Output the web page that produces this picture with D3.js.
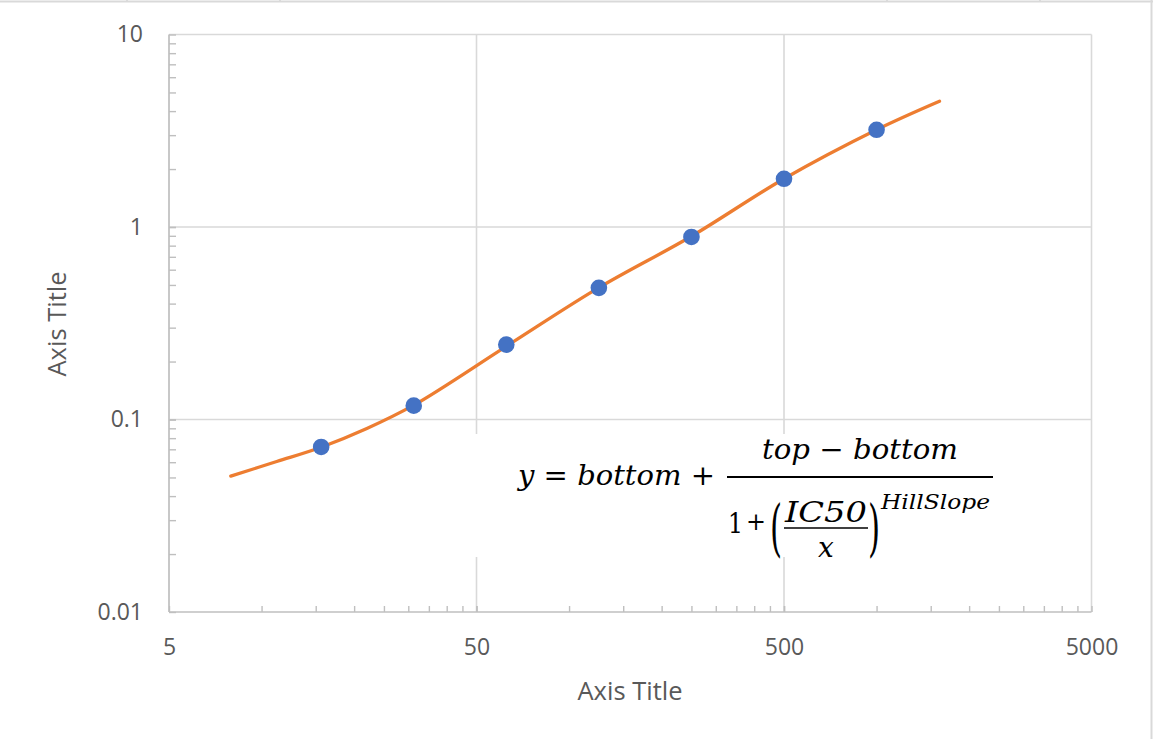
<!DOCTYPE html>
<html>
<head>
<meta charset="utf-8">
<script src="https://cdn.jsdelivr.net/npm/d3@7"></script>
<style>
  body { margin: 0; background: #fff; }
  .tick text { fill: #595959; font-family: 'Open Sans', sans-serif; font-size: 23px; }
  .domain { display: none; }
</style>
</head>
<body>
<div class="chart"></div>
<script>
// measured points (concentration vs response)
var xValues = [15.625, 31.25, 62.5, 125, 250, 500, 1000]
var yValues = [0.072, 0.118, 0.245, 0.483, 0.888, 1.78, 3.20]

// fitted curve
var curveX = [7.94, 11.2, 15.625, 22, 31.25, 62.5, 125, 250, 500, 1000, 1602]
var curveY = [0.0508, 0.0605, 0.0718, 0.0898, 0.1187, 0.240, 0.4838, 0.895, 1.782, 3.203, 4.503]

// axis ticks
var xTicks = [5, 50, 500, 5000]
var yTicks = [0.01, 0.1, 1, 10]

var svgWidth = 1153
var svgHeight = 739

var margin = { top: 34.5, left: 169, right: 61.5, bottom: 127 }
var width = svgWidth - margin.left - margin.right
var height = svgHeight - margin.top - margin.bottom

var svg = d3.select('.chart')
    .append('svg')
    .attr('width', svgWidth)
    .attr('height', svgHeight)
    .style('display', 'block')

// outer frame (only top and right edges show in the crop)
svg.append('line').attr('x1', 0).attr('x2', svgWidth).attr('y1', 1.5).attr('y2', 1.5)
    .attr('stroke', '#d9d9d9').attr('stroke-width', 2)
svg.append('line').attr('x1', 1151.5).attr('x2', 1151.5).attr('y1', 0).attr('y2', svgHeight)
    .attr('stroke', '#d9d9d9').attr('stroke-width', 2)
;[127, 280, 887, 1040].forEach(function (cx) {
    svg.append('line').attr('x1', cx).attr('x2', cx).attr('y1', 0).attr('y2', 1)
        .attr('stroke', '#c8c8c8').attr('stroke-width', 1)
})

var chartGroup = svg.append('g')
    .attr('transform', `translate(${margin.left}, ${margin.top})`)

var x = d3.scaleLog().domain([5, 5000]).range([0, width])
var y = d3.scaleLog().domain([0.01, 10]).range([height, 0])

// minor tick values: k * base for each decade
var xMinor = []
;[5, 50, 500].forEach(b => { for (var k = 1; k <= 10; k++) xMinor.push(b * k) })
var yMinor = []
;[0.01, 0.1, 1].forEach(b => { for (var k = 1; k <= 10; k++) yMinor.push(+(b * k).toPrecision(3)) })

// gridlines
chartGroup.append('g')
    .selectAll('line.hgrid')
    .data(yTicks.slice(1))
    .enter().append('line')
    .attr('x1', 0).attr('x2', width)
    .attr('y1', d => y(d)).attr('y2', d => y(d))
    .attr('stroke', '#d9d9d9').attr('stroke-width', 1.6)
chartGroup.append('g')
    .selectAll('line.vgrid')
    .data(xTicks.slice(1))
    .enter().append('line')
    .attr('x1', d => x(d)).attr('x2', d => x(d))
    .attr('y1', 0).attr('y2', height)
    .attr('stroke', '#d9d9d9').attr('stroke-width', 1.6)

// minor ticks, pointing inward
chartGroup.append('g')
    .call(d3.axisLeft(y).tickValues(yMinor).tickSize(-7).tickFormat(''))
chartGroup.append('g')
    .attr('transform', `translate(0, ${height})`)
    .call(d3.axisBottom(x).tickValues(xMinor).tickSize(-6).tickFormat(''))
chartGroup.selectAll('.tick line').attr('stroke', '#bfbfbf').attr('stroke-width', 1.4)

// axis lines
chartGroup.append('line').attr('x1', 0).attr('x2', 0).attr('y1', 0).attr('y2', height)
    .attr('stroke', '#bfbfbf').attr('stroke-width', 1.7)
chartGroup.append('line').attr('x1', 0).attr('x2', width).attr('y1', height).attr('y2', height)
    .attr('stroke', '#bfbfbf').attr('stroke-width', 1.7)

// tick labels
chartGroup.append('g')
    .call(d3.axisLeft(y).tickValues(yTicks).tickSize(0).tickPadding(26)
        .tickFormat(d => d >= 1 ? d3.format('d')(d) : String(d)))
chartGroup.append('g')
    .attr('transform', `translate(0, ${height})`)
    .call(d3.axisBottom(x).tickValues(xTicks).tickSize(0).tickPadding(27)
        .tickFormat(d3.format('d')))

// fitted curve
var line = d3.line()
    .x(d => x(d[0]))
    .y(d => y(d[1]))
    .curve(d3.curveCatmullRom.alpha(0.5))
chartGroup.append('path')
    .datum(d3.zip(curveX, curveY))
    .attr('d', line)
    .attr('fill', 'none')
    .attr('stroke', '#ed7d31')
    .attr('stroke-width', 3.3)
    .attr('stroke-linecap', 'round')

// data points
chartGroup.selectAll('circle')
    .data(d3.zip(xValues, yValues))
    .enter().append('circle')
    .attr('cx', d => x(d[0]))
    .attr('cy', d => y(d[1]))
    .attr('r', 8.3)
    .attr('fill', '#4472c4')

// axis titles
svg.append('text')
    .attr('x', 630).attr('y', 700)
    .attr('text-anchor', 'middle')
    .attr('font-family', 'Open Sans, sans-serif')
    .attr('font-size', '25.5px')
    .attr('fill', '#595959')
    .text('Axis Title')
svg.append('text')
    .attr('transform', 'translate(66, 324) rotate(-90)')
    .attr('text-anchor', 'middle')
    .attr('font-family', 'Open Sans, sans-serif')
    .attr('font-size', '25.5px')
    .attr('fill', '#595959')
    .text('Axis Title')

// equation text box (white background hides gridlines under it)
var eq = svg.append('g')
    .attr('font-family', 'DejaVu Serif, serif')
    .attr('fill', '#000')
eq.append('rect')
    .attr('x', 468).attr('y', 434).attr('width', 535).attr('height', 123)
    .attr('fill', '#fff')

var lhs = eq.append('text').attr('x', 518).attr('y', 485).attr('font-size', '28px')
    .attr('textLength', 197).attr('lengthAdjust', 'spacingAndGlyphs')
lhs.append('tspan').attr('font-style', 'italic').text('y')
lhs.append('tspan').text(' = ')
lhs.append('tspan').attr('font-style', 'italic').text('bottom')
lhs.append('tspan').text(' +')

eq.append('line').attr('x1', 727).attr('x2', 993).attr('y1', 477).attr('y2', 477)
    .attr('stroke', '#000').attr('stroke-width', 2)

var num = eq.append('text').attr('x', 762).attr('y', 459).attr('font-size', '28px')
    .attr('textLength', 196).attr('lengthAdjust', 'spacingAndGlyphs')
num.append('tspan').attr('font-style', 'italic').text('top')
num.append('tspan').text(' − ')
num.append('tspan').attr('font-style', 'italic').text('bottom')

eq.append('text').attr('x', 728).attr('y', 533).attr('font-size', '27px')
    .attr('textLength', 15).attr('lengthAdjust', 'spacingAndGlyphs')
    .text('1')
eq.append('text').attr('x', 746).attr('y', 530).attr('font-size', '24px')
    .attr('textLength', 20).attr('lengthAdjust', 'spacingAndGlyphs')
    .text('+')

eq.append('text').attr('x', 770).attr('y', 549).attr('font-size', '62px')
    .attr('transform', 'translate(770,549) scale(0.5,1) translate(-770,-549)')
    .text('(')
eq.append('text').attr('x', 868).attr('y', 549).attr('font-size', '62px')
    .attr('transform', 'translate(868,549) scale(0.5,1) translate(-868,-549)')
    .text(')')

eq.append('text').attr('x', 785).attr('y', 522).attr('font-size', '27px')
    .attr('font-style', 'italic')
    .attr('textLength', 82).attr('lengthAdjust', 'spacingAndGlyphs')
    .text('IC50')
eq.append('line').attr('x1', 784).attr('x2', 868).attr('y1', 528).attr('y2', 528)
    .attr('stroke', '#000').attr('stroke-width', 1.6)
eq.append('text').attr('x', 826).attr('y', 557).attr('font-size', '28px')
    .attr('font-style', 'italic').attr('text-anchor', 'middle')
    .text('x')

eq.append('text').attr('x', 881).attr('y', 509).attr('font-size', '20px')
    .attr('font-style', 'italic')
    .attr('textLength', 109).attr('lengthAdjust', 'spacingAndGlyphs')
    .text('HillSlope')
</script>
</body>
</html>
